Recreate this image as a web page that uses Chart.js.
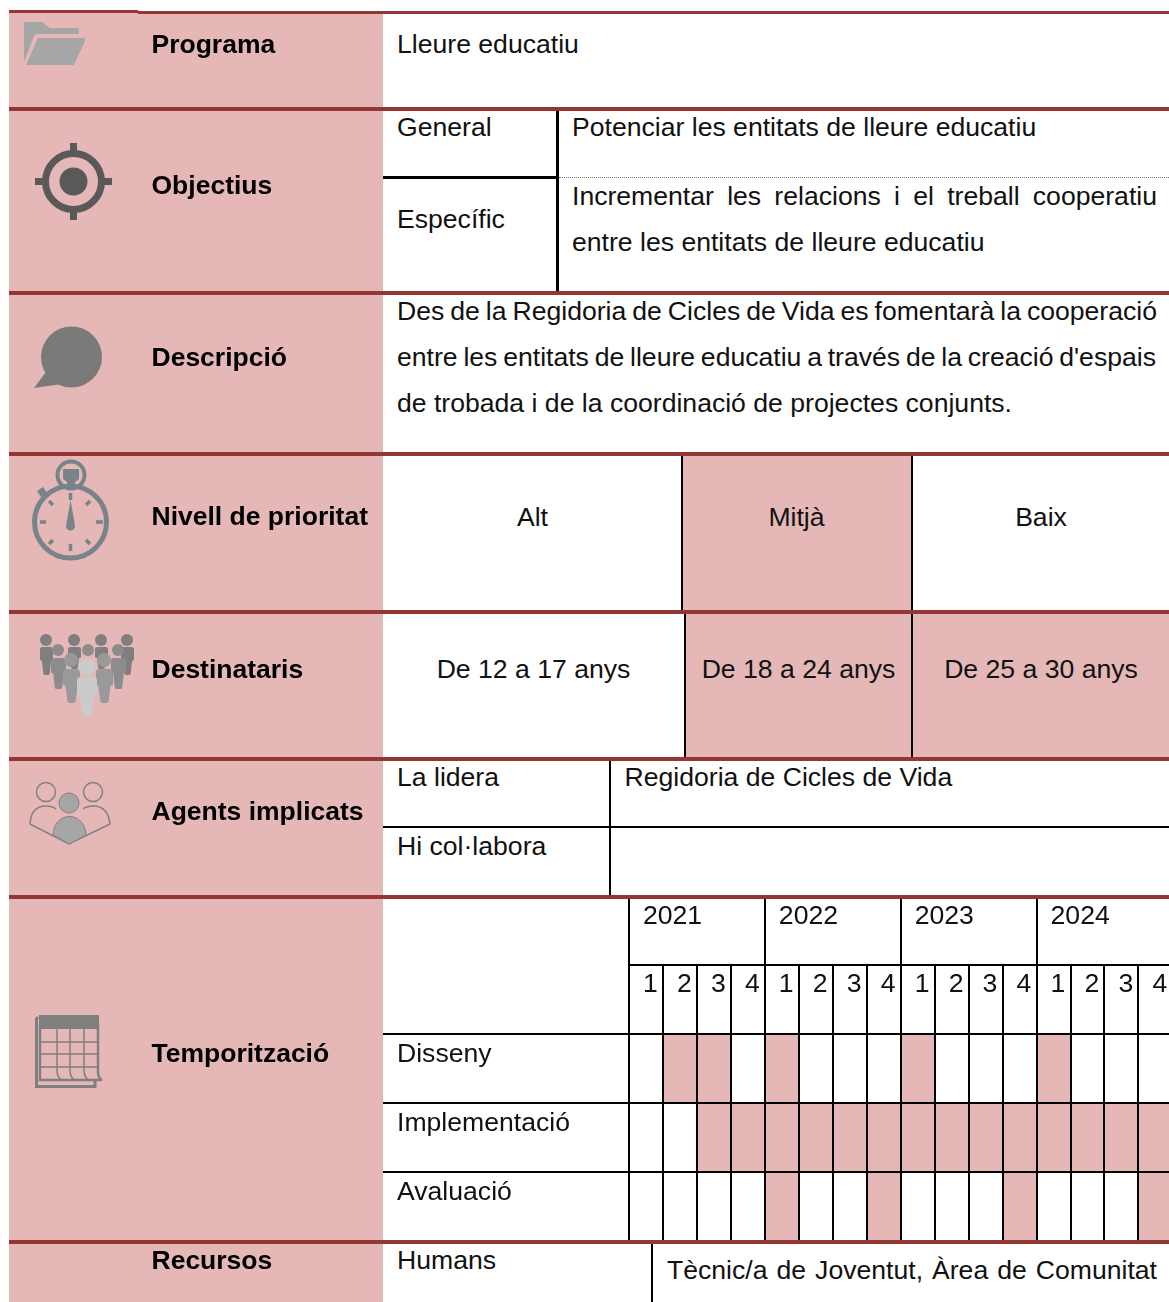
<!DOCTYPE html>
<html lang="ca">
<head>
<meta charset="utf-8">
<title>Fitxa de programa</title>
<script src="https://cdn.jsdelivr.net/npm/chart.js@4/dist/chart.umd.min.js"></script>
<style>
html, body { margin: 0; padding: 0; background: #fff; }
body { position: relative; width: 1169px; height: 1302px; overflow: hidden; font-family: "Liberation Sans", Arial, sans-serif; font-size: 26.6px; color: #111; }
.r { position: absolute; }
.red { position: absolute; left: 9px; width: 1160px; height: 4px; background: #943634; }
.pink { position: absolute; background: #E5B8B7; }
.k { position: absolute; background: #000; }
.t { position: absolute; line-height: 30px; white-space: nowrap; }
.h { position: absolute; left: 151.5px; line-height: 30px; white-space: nowrap; font-weight: bold; font-size: 26.5px; color: #000; }
.c { position: absolute; line-height: 30px; white-space: nowrap; text-align: center; }
.j { position: absolute; line-height: 30px; white-space: nowrap; }
svg.icon { position: absolute; left: 0; top: 0; }
#ganttBox { position: absolute; left: 383px; top: 897px; width: 786px; height: 344px; }
</style>
</head>
<body>

<!-- fons de la columna esquerra -->
<div class="pink" style="left:9px;top:12px;width:374px;height:1290px"></div>
<div class="pink" style="left:683px;top:456px;width:229px;height:154px"></div>
<div class="pink" style="left:686px;top:614px;width:483px;height:143px"></div>

<!-- línies negres de les taules -->
<div class="k" style="left:556px;top:111px;width:3px;height:180px"></div>
<div class="k" style="left:383px;top:176px;width:176px;height:3px"></div>
<div class="r" style="left:559px;top:177px;width:610px;border-top:1px dotted #777"></div>
<div class="k" style="left:681px;top:456px;width:2px;height:154px"></div>
<div class="k" style="left:911px;top:456px;width:2px;height:154px"></div>
<div class="k" style="left:684px;top:614px;width:2px;height:143px"></div>
<div class="k" style="left:911px;top:614px;width:2px;height:143px"></div>
<div class="k" style="left:609px;top:761px;width:2px;height:134px"></div>
<div class="k" style="left:383px;top:826px;width:786px;height:2px"></div>
<div class="k" style="left:651px;top:1244px;width:2px;height:58px"></div>

<!-- diagrama de temporització -->
<div id="ganttBox"><canvas id="gantt"></canvas></div>

<!-- línies vermelles -->
<div class="red" style="top:10px;width:129px;height:3px"></div>
<div class="red" style="top:11px;left:138px;width:1031px;height:3px"></div>
<div class="red" style="top:107px"></div>
<div class="red" style="top:291px"></div>
<div class="red" style="top:452px"></div>
<div class="red" style="top:610px"></div>
<div class="red" style="top:757px"></div>
<div class="red" style="top:895px"></div>
<div class="red" style="top:1240px"></div>

<!-- icones -->
<svg class="icon" width="383" height="1302" viewBox="0 0 383 1302">
  <defs>
    <symbol id="body" viewBox="0 0 20 50" preserveAspectRatio="none">
      <path d="M4 0H16Q20 0 20 4V22Q20 25 17 25L15 47Q15 50 12 50H8Q5 50 5 47L3 25Q0 25 0 22V4Q0 0 4 0Z"/>
    </symbol>
  </defs>
  <!-- carpeta -->
  <g fill="#a6a6a6">
    <path d="M24 24 Q24 22 26 22 L42 22 L50 28 L77 28 Q79 28 79 30 L79 34 L37 34 Q35 34 34 36 L24 62 Z"/>
    <path d="M38 38 L83 38 Q86 38 85 41 L74 65 L26 65 Z"/>
  </g>
  <!-- diana -->
  <g fill="none" stroke="#595959">
    <circle cx="73.5" cy="181.5" r="28" stroke-width="7"/>
    <path d="M73.5 143V156M73.5 207V220M35 181.5H48M99 181.5H112" stroke-width="7"/>
  </g>
  <circle cx="73.5" cy="181.5" r="14" fill="#595959"/>
  <!-- bafarada -->
  <g fill="#7a7a7a">
    <circle cx="71.5" cy="357" r="30.5"/>
    <path d="M46 372 L34 388 L62 384 Z"/>
  </g>
  <!-- cronòmetre -->
  <g fill="none" stroke="#78838a">
    <circle cx="70.5" cy="522" r="36" stroke-width="5"/>
    <circle cx="71" cy="475" r="13.5" stroke-width="4"/>
    <path d="M39 494 L45 490" stroke-width="7"/>
    <path d="M70.5 493V500M70.5 544V551M40 522H46M96 522H103M49 501L53 505M90 501L86 505M49 544L53 540M90 544L86 540" stroke-width="3.5"/>
  </g>
  <g fill="#78838a">
    <path d="M63 469H79V479L75 482V486H67V482L63 479Z"/>
    <path d="M70.5 500 L75 526 A4.5 4.5 0 1 1 66 526 Z"/>
  </g>
  <!-- persones -->
  <g fill="#7f7f7f">
    <circle cx="46" cy="640" r="6"/><circle cx="74" cy="640" r="6"/><circle cx="101" cy="640" r="6"/><circle cx="127" cy="640" r="6"/>
    <use href="#body" x="40" y="647" width="13" height="28"/><use href="#body" x="68" y="647" width="13" height="22"/><use href="#body" x="95" y="647" width="13" height="22"/><use href="#body" x="121" y="647" width="13" height="28"/>
  </g>
  <g fill="#8c8c8c">
    <circle cx="58" cy="650" r="6"/><circle cx="88" cy="650" r="6"/><circle cx="118" cy="650" r="6"/>
    <use href="#body" x="51" y="658" width="15" height="31"/><use href="#body" x="111" y="658" width="15" height="31"/>
  </g>
  <g fill="#999">
    <circle cx="71" cy="660" r="7"/><circle cx="104" cy="660" r="7"/>
    <use href="#body" x="63" y="669" width="17" height="34"/><use href="#body" x="96" y="669" width="17" height="34"/>
  </g>
  <g fill="#cbcbcb">
    <circle cx="87" cy="667" r="8.5"/>
    <use href="#body" x="77" y="677" width="20" height="39"/>
  </g>
  <!-- agents -->
  <g fill="none" stroke="#808080" stroke-width="1.5">
    <circle cx="46" cy="792" r="9.5"/><circle cx="93" cy="792" r="9.5"/>
    <path d="M30 824 Q31 806 46 806 Q52 806 56 809 M83 809 Q87 806 93 806 Q108 806 110 824 L69 844 L30 824"/>
  </g>
  <g fill="#a6a6a6" stroke="#808080" stroke-width="1">
    <circle cx="69" cy="803" r="10"/>
    <path d="M53 835 A16 18 0 0 1 86 835 L69 844 Z"/>
  </g>
  <!-- calendari -->
  <g fill="none" stroke="#7f7f7f">
    <path d="M38 1017 L36.5 1019 V1086.5 H95 V1081" stroke-width="3"/>
    <path d="M40 1024 V1080 H102 Q98 1078 98 1072 V1024" stroke-width="2.5"/>
    <path d="M40 1042H98M40 1054H98M40 1067H98M57 1024V1070Q57 1078 62 1080M70 1024V1070Q70 1078 75 1080M84 1024V1070Q84 1078 89 1080" stroke-width="1.5"/>
  </g>
  <rect x="39" y="1015" width="60" height="14" fill="#7f7f7f"/>
</svg>

<!-- textos -->
<div class="h" style="top:29px">Programa</div>
<div class="h" style="top:170px">Objectius</div>
<div class="h" style="top:342px">Descripció</div>
<div class="h" style="top:501px">Nivell de prioritat</div>
<div class="h" style="top:654px">Destinataris</div>
<div class="h" style="top:796px">Agents implicats</div>
<div class="h" style="top:1038px">Temporització</div>
<div class="h" style="top:1245px">Recursos</div>

<div class="t" style="left:397px;top:29px">Lleure educatiu</div>
<div class="t" style="left:397px;top:112px">General</div>
<div class="t" style="left:572px;top:112px">Potenciar les entitats de lleure educatiu</div>
<div class="t" style="left:397px;top:204px">Específic</div>
<div class="j" data-w="585" style="left:572px;top:181px">Incrementar les relacions i el treball cooperatiu</div>
<div class="t" style="left:572px;top:227px">entre les entitats de lleure educatiu</div>

<div class="j" data-w="760" style="left:397px;top:296px">Des de la Regidoria de Cicles de Vida es fomentarà la cooperació</div>
<div class="j" data-w="759" style="left:397px;top:342px">entre les entitats de lleure educatiu a través de la creació d'espais</div>
<div class="t" style="left:397px;top:388px">de trobada i de la coordinació de projectes conjunts.</div>

<div class="c" style="left:383px;width:299px;top:502px">Alt</div>
<div class="c" style="left:682px;width:229px;top:502px">Mitjà</div>
<div class="c" style="left:913px;width:256px;top:502px">Baix</div>

<div class="c" style="left:383px;width:301px;top:654px">De 12 a 17 anys</div>
<div class="c" style="left:686px;width:225px;top:654px">De 18 a 24 anys</div>
<div class="c" style="left:913px;width:256px;top:654px">De 25 a 30 anys</div>

<div class="t" style="left:397px;top:762px">La lidera</div>
<div class="t" style="left:624.5px;top:762px">Regidoria de Cicles de Vida</div>
<div class="t" style="left:397px;top:831px">Hi col·labora</div>

<div class="t" style="left:397px;top:1245px">Humans</div>
<div class="j" data-w="490" style="left:667px;top:1255px">Tècnic/a de Joventut, Àrea de Comunitat</div>

<script>
// dades de la temporització
const years = ['2021', '2022', '2023', '2024'];
const quarters = ['1', '2', '3', '4'];
const tasks = ['Disseny', 'Implementació', 'Avaluació'];
// trimestres actius de cada tasca, comptats des de l'inici del 2021
const dissenyQuarters = [2, 3, 5, 9, 13];
const implementacioQuarters = [3, 4, 5, 6, 7, 8, 9, 10, 11, 12, 13, 14, 15, 16];
const avaluacioQuarters = [5, 8, 12, 16];

const pink = '#E5B8B7';
const labelFont = { family: '"Liberation Sans", Arial, sans-serif', size: 26.6 };
// l'última columna queda tallada per la vora de la pàgina
const lastVisible = 15.9;

// les línies justificades de l'original tenen l'espai entre paraules ajustat
document.querySelectorAll('.j').forEach(line => {
    const gaps = line.textContent.split(' ').length - 1;
    const natural = line.getBoundingClientRect().width;
    line.style.wordSpacing = ((Number(line.dataset.w) - natural) / gaps) + 'px';
});

function taskBars(task, active) {
    return {
        label: task,
        data: active.map(q => ({ x: [q - 1, q], y: task })),
        backgroundColor: pink,
        borderWidth: 0,
        barPercentage: 1,
        categoryPercentage: 1,
        grouped: false
    };
}

// sense marges extra: l'àrea del gràfic ha d'arribar fins a la línia vermella
function fixAxisBox(scale, size) {
    if (scale.isHorizontal()) {
        scale.height = size;
    } else {
        scale.width = size;
    }
    scale.paddingTop = 0;
    scale.paddingBottom = 0;
    scale.paddingLeft = 0;
    scale.paddingRight = 0;
}

new Chart(document.getElementById('gantt'), {
    type: 'bar',
    data: {
        labels: tasks,
        datasets: [
            taskBars(tasks[0], dissenyQuarters),
            taskBars(tasks[1], implementacioQuarters),
            taskBars(tasks[2], avaluacioQuarters)
        ]
    },
    options: {
        indexAxis: 'y',
        responsive: true,
        maintainAspectRatio: false,
        animation: false,
        events: [],
        layout: { padding: { left: 14, top: 0, right: 0, bottom: 0 } },
        plugins: { legend: { display: false }, tooltip: { enabled: false }, title: { display: false } },
        scales: {
            x: {
                type: 'linear',
                position: 'top',
                min: 0,
                max: lastVisible,
                weight: 0,
                afterFit: scale => fixAxisBox(scale, 69),
                border: { color: '#000', width: 2, z: 1 },
                grid: { color: '#000', lineWidth: 2, tickLength: 69, z: 1 },
                ticks: {
                    stepSize: 1,
                    includeBounds: false,
                    autoSkip: false,
                    maxRotation: 0,
                    minRotation: 0,
                    align: 'start',
                    labelOffset: 14,
                    padding: -36,
                    color: '#111',
                    font: labelFont,
                    callback: value => quarters[value % 4]
                }
            },
            years: {
                type: 'linear',
                position: 'top',
                min: 0,
                max: lastVisible,
                weight: 1,
                afterFit: scale => fixAxisBox(scale, 68),
                border: { color: '#000', width: 2, z: 1 },
                grid: { color: '#000', lineWidth: 2, tickLength: 68, drawOnChartArea: false, z: 1 },
                ticks: {
                    stepSize: 4,
                    includeBounds: false,
                    autoSkip: false,
                    maxRotation: 0,
                    minRotation: 0,
                    align: 'start',
                    labelOffset: 14,
                    padding: -36,
                    color: '#111',
                    font: labelFont,
                    callback: value => years[value / 4]
                }
            },
            y: {
                type: 'category',
                labels: tasks,
                afterFit: scale => fixAxisBox(scale, 232),
                border: { display: false },
                grid: { color: '#000', lineWidth: 2, tickLength: 246, offset: true, z: 1 },
                ticks: {
                    crossAlign: 'far',
                    labelOffset: -14,
                    color: '#111',
                    font: labelFont
                }
            }
        }
    }
});
</script>
</body>
</html>
